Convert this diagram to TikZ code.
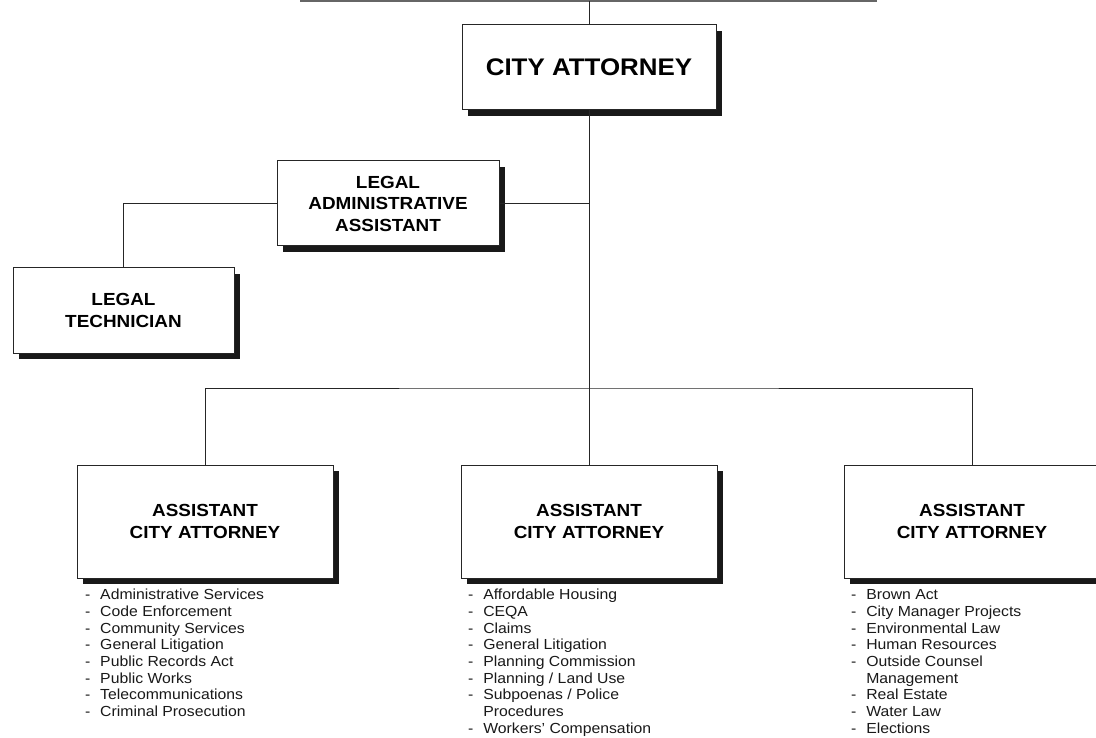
\documentclass[tikz,border=0pt]{standalone}
\usepackage{fontspec}
\setmainfont[FakeStretch=1.08]{Liberation Sans}
\usetikzlibrary{shadows}

\begin{document}
\begin{tikzpicture}
[
x=1pt, y=-1pt,
every node/.style={inner sep=0pt, outer sep=0pt},
post/.style={draw=black!85, fill=white, line width=1pt, align=center,
  font=\bfseries\fontsize{17.5}{21.5}\selectfont,
  drop shadow={shadow xshift=6pt, shadow yshift=-6pt, fill=black!90, opacity=1}},
mainpost/.style={post, minimum width=254pt, minimum height=85pt,
  font=\bfseries\fontsize{24}{28}\selectfont},
staffpost/.style={post, minimum width=222pt, minimum height=85pt},
asstpost/.style={post, minimum width=256pt, minimum height=113pt},
duties/.style={anchor=north west, font=\fontsize{14.6}{16.7}\selectfont, text=black!90},
link/.style={draw=black!85, line width=1pt}
]
\useasboundingbox (0,0) rectangle (1096,738);
\clip (0,0) rectangle (1096,738);

% top of the chart
\coordinate (council west) at (300,1);
\coordinate (council east) at (877,1);
\node[mainpost] (ca) at (589,67.5) {CITY ATTORNEY};

% support staff
\node[staffpost] (laa) at (388,203.5) {LEGAL\\ADMINISTRATIVE\\ASSISTANT};
\node[staffpost, minimum width=221pt] (lt) at (123.5,310.5) {LEGAL\\TECHNICIAN};

% assistants
\coordinate (bar) at (589,388);
\node[asstpost] (aca1) at (205,521.5) {ASSISTANT\\CITY ATTORNEY};
\node[asstpost] (aca2) at (589,521.5) {ASSISTANT\\CITY ATTORNEY};
\node[asstpost] (aca3) at (972,521.5) {ASSISTANT\\CITY ATTORNEY};

% duties
\node[duties] (duty1) at (85,588) {\begin{tabular}{@{}l@{\hspace{10pt}}l@{}}
- & Administrative Services\\
- & Code Enforcement\\
- & Community Services\\
- & General Litigation\\
- & Public Records Act\\
- & Public Works\\
- & Telecommunications\\
- & Criminal Prosecution
\end{tabular}};
\node[duties] (duty2) at (468,588) {\begin{tabular}{@{}l@{\hspace{10pt}}l@{}}
- & Affordable Housing\\
- & CEQA\\
- & Claims\\
- & General Litigation\\
- & Planning Commission\\
- & Planning / Land Use\\
- & Subpoenas / Police\\
  & Procedures\\
- & Workers' Compensation
\end{tabular}};
\node[duties] (duty3) at (851,588) {\begin{tabular}{@{}l@{\hspace{10pt}}l@{}}
- & Brown Act\\
- & City Manager Projects\\
- & Environmental Law\\
- & Human Resources\\
- & Outside Counsel\\
  & Management\\
- & Real Estate\\
- & Water Law\\
- & Elections
\end{tabular}};

% connectors
\draw[draw=black!60, line width=1.5pt] (council west) -- (council east);
\draw[link] (ca.north) -- (ca.north |- council west);
\draw[link] (ca.south) -- (bar);
\draw[link] (laa.east) -- (laa.east -| ca.south);
\draw[link] (lt.north) |- (laa.west);
\draw[link] (aca1.north) |- (bar) -| (aca3.north);
\draw[link] (aca2.north) -- (bar);
\end{tikzpicture}
\end{document}
